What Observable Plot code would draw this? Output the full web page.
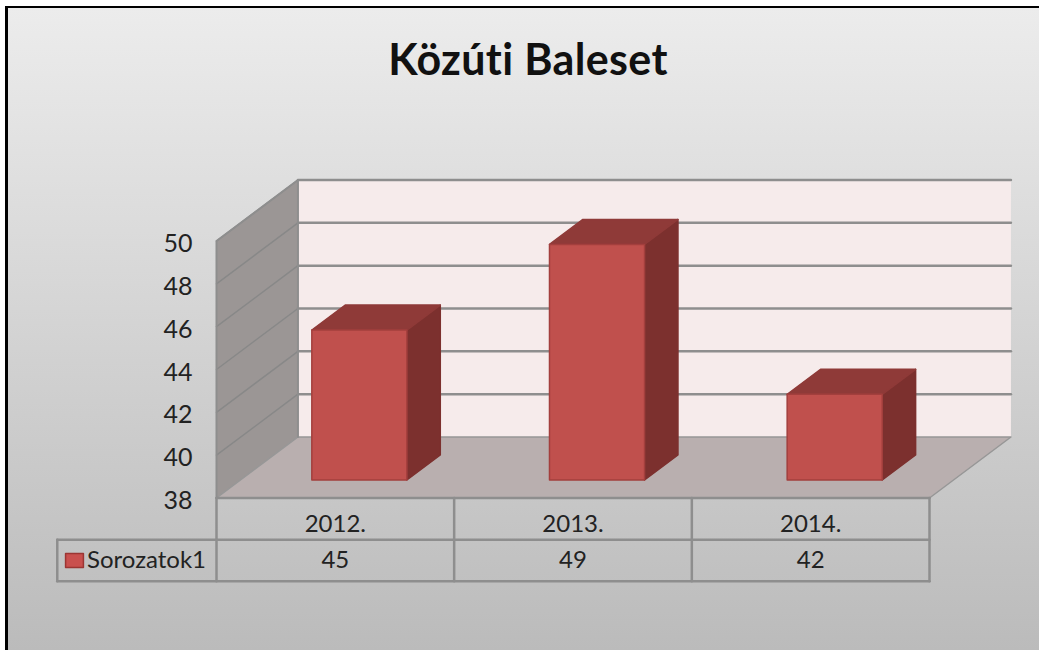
<!DOCTYPE html>
<html><head><meta charset="utf-8">
<script src="https://cdn.jsdelivr.net/npm/d3@7"></script>
<script src="https://cdn.jsdelivr.net/npm/@observablehq/plot@0.6"></script>
<style>
html,body{margin:0;padding:0;background:#fff}
#frame{position:absolute;left:5px;top:6px;width:1034px;height:644px;box-sizing:border-box;border-left:3px solid #000;border-top:2px solid #000;background:linear-gradient(#ececec,#bbbbbb)}
#title{position:absolute;left:0;width:1056px;top:33px;margin:0;text-align:center;font:bold 43px Lato,sans-serif;letter-spacing:.35px;color:#111}
#chart{position:absolute;left:0;top:0}
svg{background:transparent!important}
</style></head><body>
<div id="frame"></div>
<h1 id="title">Közúti Baleset</h1>
<div id="chart"></div>
<script>
const categories = ["2012.", "2013.", "2014."];
const values = [45, 49, 42];
const seriesName = "Sorozatok1";
const yTicks = [38, 40, 42, 44, 46, 48, 50];
const gridValues = [40, 42, 44, 46, 48, 50];

const yMin = 38, yMax = 50;
// oblique projection: depth 0 = front of the floor, 1 = back wall (in data units)
const depthX = 0.3427, depthY = 2.848;
const P = (c, v, d = 0) => ({x: c + d * depthX, y: v + d * depthY});
const poly = (pts, id) => pts.map(([c, v, d]) => ({...P(c, v, d), id}));
const barFront = 0.295, barBack = 0.705, barGap = 0.3;

const font = "Lato, sans-serif";
const wallColor = "#9b9695", backColor = "#f6ebeb", floorColor = "#b9afaf", lineColor = "#8e8e8e";

const bars = categories.map((c, i) => ({c, v: values[i], a: i + barGap, b: i + 1 - barGap}));
const faces = (fn) => bars.flatMap((b, i) => poly(fn(b), i));
const frontFace = faces(b => [[b.a,yMin,barFront],[b.b,yMin,barFront],[b.b,b.v,barFront],[b.a,b.v,barFront]]);
const topFace = faces(b => [[b.a,b.v,barFront],[b.b,b.v,barFront],[b.b,b.v,barBack],[b.a,b.v,barBack]]);
const sideFace = faces(b => [[b.b,yMin,barFront],[b.b,yMin,barBack],[b.b,b.v,barBack],[b.b,b.v,barFront]]);

const rowH = 1.945; // data-table row height, in value units
const legendLeft = -0.67;
const tableRow = k => yMin - k * rowH;
const tableLines = [
  ...[0,1,2].flatMap(k => poly([[k === 0 ? 0 : legendLeft, tableRow(k), 0], [3, tableRow(k), 0]], "h" + k)),
  ...[0,1,2,3].flatMap(i => poly([[i, tableRow(0), 0], [i, tableRow(2), 0]], "v" + i)),
  ...poly([[legendLeft, tableRow(1), 0], [legendLeft, tableRow(2), 0]], "vl")
];

const backGrid = gridValues.flatMap(v => poly([[0,v,1],[3,v,1]], "b" + v));
const sideGrid = gridValues.flatMap(v => poly([[0,v,0],[0,v,1]], "s" + v));
const swatch = poly([[-0.635,tableRow(1.33),0],[-0.56,tableRow(1.33),0],[-0.56,tableRow(1.67),0],[-0.635,tableRow(1.67),0]], "s");

const fill = (data, color, stroke) => Plot.line(data, {x: "x", y: "y", z: "id", fill: color, stroke: stroke ?? "none", strokeWidth: 1.5, strokeLinejoin: "round", curve: "linear-closed"});

const plot = Plot.plot({
  width: 1039, height: 650,
  marginLeft: 216, marginRight: 110, marginTop: 240.5, marginBottom: 152.5,
  x: {domain: [0, 3], axis: null},
  y: {domain: [yMin, yMax]},
  style: {fontFamily: font, background: "transparent"},
  marks: [
    fill(poly([[0,yMin,1],[3,yMin,1],[3,yMax,1],[0,yMax,1]], "back"), backColor),
    fill(poly([[0,yMin,0],[0,yMin,1],[0,yMax,1],[0,yMax,0]], "side"), wallColor),
    fill(poly([[0,yMin,0],[3,yMin,0],[3,yMin,1],[0,yMin,1]], "floor"), floorColor),
    Plot.line(backGrid, {x: "x", y: "y", z: "id", stroke: lineColor, strokeWidth: 2.5}),
    Plot.line(sideGrid, {x: "x", y: "y", z: "id", stroke: "#888", strokeWidth: 1.5}),
    Plot.line(poly([[0,yMin,0],[0,yMin,1],[3,yMin,1],[3,yMin,0]], "floorEdge"), {x: "x", y: "y", stroke: "#979797", strokeWidth: 1.5}),
    Plot.line(poly([[0,yMin,1],[0,yMax,1],[0,yMax,0],[0,yMin,0]], "wallEdge"), {x: "x", y: "y", stroke: lineColor, strokeWidth: 2}),
    fill(sideFace, "#7c302e", "#7c302e"),
    fill(topFace, "#8f3a38", "#8f3a38"),
    fill(frontFace, "#c0504d", "#a33f3d"),
    Plot.line(tableLines, {x: "x", y: "y", z: "id", stroke: lineColor, strokeWidth: 2.5}),
    fill(swatch, "#c9504e", "#9c3533"),
    Plot.axisY({ticks: yTicks, tickSize: 0, tickPadding: 24, tickFormat: d => String(d), fontSize: 25, letterSpacing: 1, label: null, fill: "#222", dy: 3}),
    Plot.text(categories, {x: (d, i) => i + 0.5, y: tableRow(0.62), text: d => d, fontSize: 24, fill: "#222", letterSpacing: 1.2}),
    Plot.text(values, {x: (d, i) => i + 0.5, y: tableRow(1.5), text: d => String(d), fontSize: 24, fill: "#222", letterSpacing: 1}),
    Plot.text([seriesName], {x: -0.545, y: tableRow(1.5), text: d => d, textAnchor: "start", fontSize: 24, fill: "#222", letterSpacing: 1.5})
  ]
});
document.getElementById("chart").appendChild(plot);
</script></body></html>
